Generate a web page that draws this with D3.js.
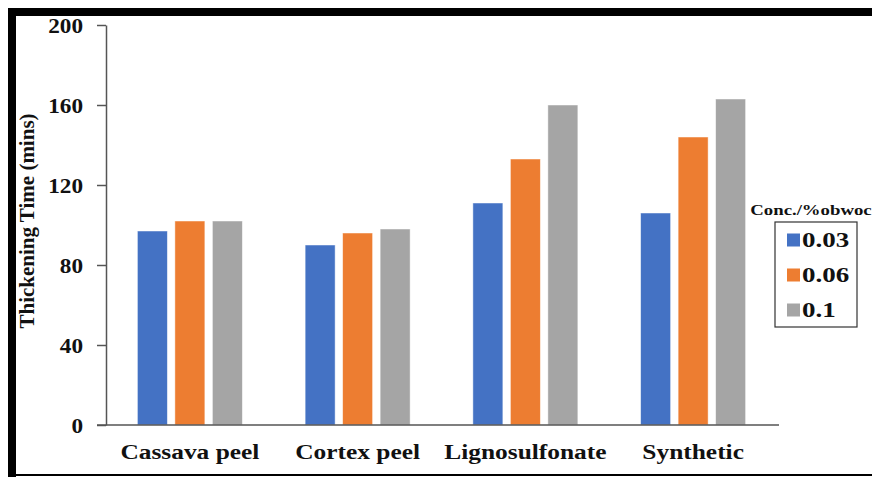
<!DOCTYPE html>
<html>
<head>
<meta charset="utf-8">
<script src="https://cdn.jsdelivr.net/npm/d3@7/dist/d3.min.js"></script>
<style>
  html, body { margin: 0; padding: 0; background: #fff; }
  svg { display: block; }
</style>
</head>
<body>
<svg id="chart" width="872" height="477"></svg>
<script>
const categories = ["Cassava peel", "Cortex peel", "Lignosulfonate", "Synthetic"];
const seriesNames = ["0.03", "0.06", "0.1"];
const values003 = [97, 90, 111, 106];
const values006 = [102, 96, 133, 144];
const values01 = [102, 98, 160, 163];
const yTicks = [0, 40, 80, 120, 160, 200];
const colors = ["#4472C4", "#ED7D31", "#A5A5A5"];
const yTitle = "Thickening Time (mins)";
const legendTitle = "Conc./%obwoc";

const FONT = "'Liberation Serif', 'DejaVu Serif', serif";
const seriesValues = [values003, values006, values01];
const svg = d3.select("#chart");

function styleText(sel, size) {
  return sel.attr("font-family", FONT).style("font-family", FONT)
    .attr("font-weight", "bold").style("font-weight", "bold")
    .style("font-size", size + "px").attr("fill", "#111");
}
// the reference text is horizontally widened; stretch each label by a factor
function widen(sel, k) {
  sel.each(function () {
    const w = this.getComputedTextLength();
    d3.select(this).attr("textLength", w * k).attr("lengthAdjust", "spacingAndGlyphs");
  });
  return sel;
}

// frame
svg.append("rect").attr("x", 0).attr("y", 0).attr("width", 872).attr("height", 477).attr("fill", "#fff");
svg.append("rect").attr("x", 8).attr("y", 8).attr("width", 872).attr("height", 8).attr("fill", "#000");
svg.append("rect").attr("x", 8).attr("y", 8).attr("width", 8).attr("height", 477).attr("fill", "#000");
svg.append("rect").attr("x", 8).attr("y", 474).attr("width", 872).attr("height", 2).attr("fill", "#000");

const x0 = d3.scaleBand().domain(categories).range([106, 777]).paddingInner(0).paddingOuter(0);
const x1 = d3.scaleBand().domain(seriesNames).range([-52.5, 52.5]).paddingInner(0.2).paddingOuter(0);
const y = d3.scaleLinear().domain([0, 200]).range([425, 25]);

// bars
const groups = svg.append("g").selectAll("g")
  .data(categories).join("g")
  .attr("transform", d => `translate(${x0(d) + x0.bandwidth() / 2},0)`);
groups.selectAll("rect")
  .data((c, i) => seriesNames.map((s, j) => ({ s, j, v: seriesValues[j][i] })))
  .join("rect")
  .attr("x", d => x1(d.s))
  .attr("width", x1.bandwidth())
  .attr("y", d => y(d.v))
  .attr("height", d => y(0) - y(d.v))
  .attr("fill", d => colors[d.j])
  .attr("stroke", "#fff")
  .attr("stroke-opacity", 0.6)
  .attr("stroke-width", 0.8);

// y axis
const yAxis = svg.append("g").attr("transform", "translate(106,0)")
  .call(d3.axisLeft(y).tickValues(yTicks).tickSize(9).tickSizeOuter(0).tickPadding(14));
yAxis.attr("font-family", null).attr("font-size", null);
yAxis.select(".domain").attr("stroke", "#555").attr("stroke-width", 1.5);
yAxis.selectAll(".tick line").attr("stroke", "#555").attr("stroke-width", 1.5);
widen(styleText(yAxis.selectAll(".tick text"), 20).attr("dy", "0.35em"), 1.16);

// x axis
const xAxis = svg.append("g").attr("transform", `translate(0,${y(0)})`)
  .call(d3.axisBottom(x0).tickSize(0).tickPadding(20));
xAxis.attr("font-family", null).attr("font-size", null);
xAxis.select(".domain").attr("d", "M97,0H779").attr("stroke", "#555").attr("stroke-width", 1.5);
widen(styleText(xAxis.selectAll(".tick text"), 20).attr("dy", "0.71em"), 1.27);

// y title
styleText(svg.append("text"), 21)
  .attr("transform", "translate(34,221) rotate(-90)")
  .attr("text-anchor", "middle")
  .text(yTitle);

// legend
widen(styleText(svg.append("text"), 15).attr("x", 811).attr("y", 215).attr("text-anchor", "middle")
  .text(legendTitle), 1.25);
svg.append("rect").attr("x", 775).attr("y", 222).attr("width", 82).attr("height", 105)
  .attr("fill", "none").attr("stroke", "#333").attr("stroke-width", 1.2);
const leg = svg.append("g").selectAll("g").data(seriesNames).join("g")
  .attr("transform", (d, i) => `translate(787,${240 + i * 35})`);
leg.append("rect").attr("x", 0).attr("y", -6.5).attr("width", 13).attr("height", 13)
  .attr("fill", (d, i) => colors[i]);
widen(styleText(leg.append("text"), 20).attr("x", 15).attr("y", 0).attr("dy", "0.35em")
  .text(d => d), 1.35);
</script>
</body>
</html>
